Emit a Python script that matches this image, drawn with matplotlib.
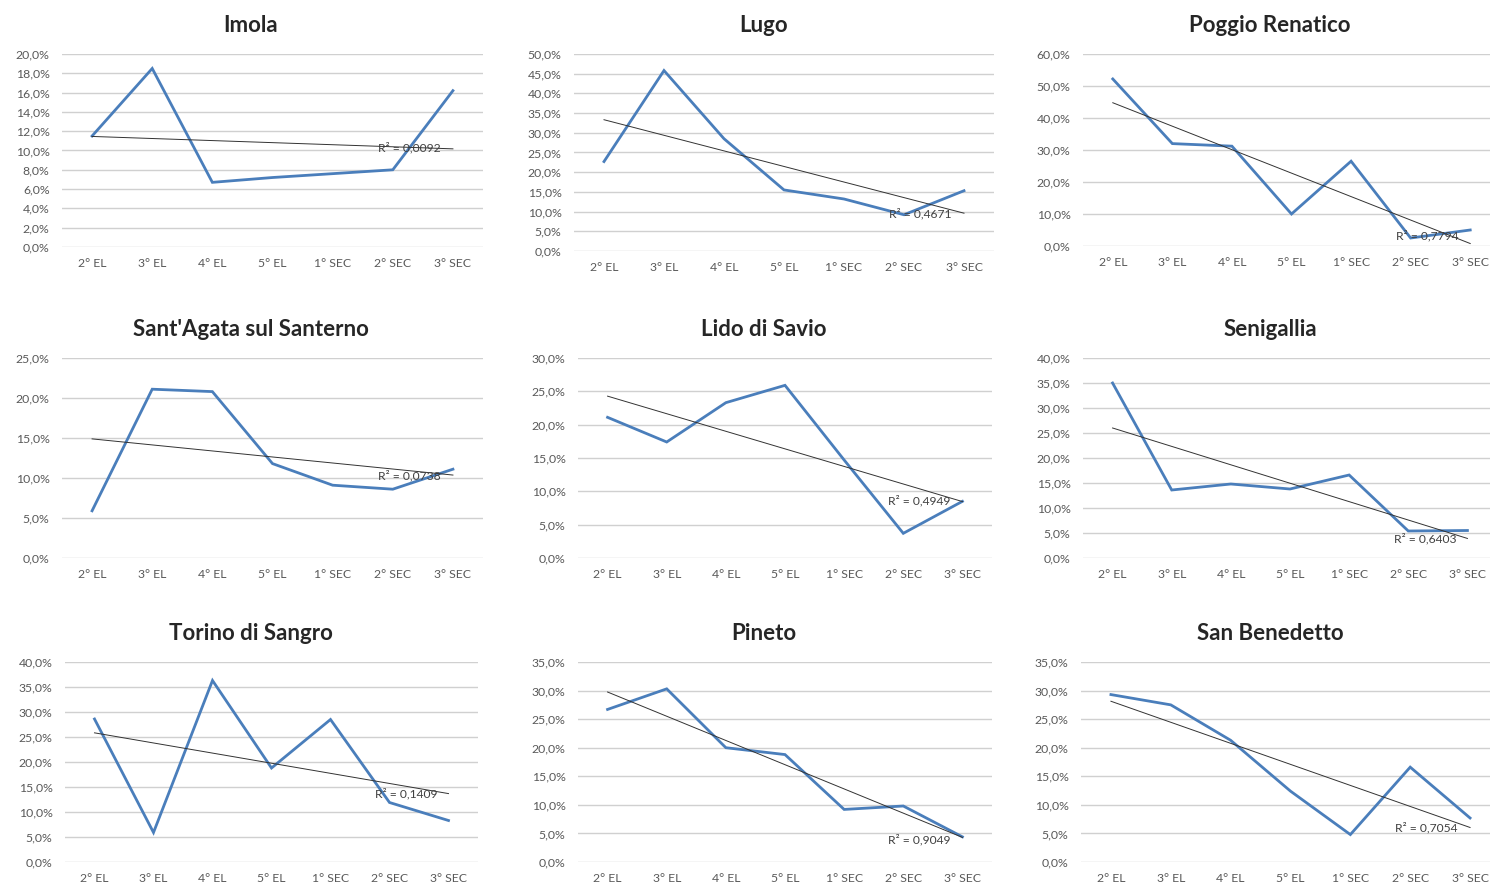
import matplotlib

matplotlib.use("Agg")
import matplotlib.pyplot as plt
import numpy as np
from matplotlib.ticker import FuncFormatter, MultipleLocator

plt.rcParams["font.family"] = ["Lato", "DejaVu Sans"]

# --- data (percent values) ---
categories = ["2° EL", "3° EL", "4° EL", "5° EL", "1° SEC", "2° SEC", "3° SEC"]
titles = [
    "Imola", "Lugo", "Poggio Renatico",
    "Sant'Agata sul Santerno", "Lido di Savio", "Senigallia",
    "Torino di Sangro", "Pineto", "San Benedetto",
]
imola = [11.5, 18.5, 6.7, 7.2, 7.6, 8.0, 16.2]
lugo = [22.7, 45.8, 28.5, 15.5, 13.2, 9.2, 15.3]
poggio = [52.2, 32.0, 31.2, 10.0, 26.5, 2.5, 5.0]
santagata = [5.9, 21.1, 20.8, 11.8, 9.1, 8.6, 11.1]
lido = [21.1, 17.4, 23.3, 25.9, 14.7, 3.7, 8.5]
senigallia = [35.0, 13.6, 14.8, 13.8, 16.6, 5.4, 5.5]
torino = [28.6, 5.9, 36.3, 18.8, 28.5, 11.9, 8.3]
pineto = [26.7, 30.3, 20.0, 18.8, 9.2, 9.8, 4.4]
sanbenedetto = [29.3, 27.5, 21.3, 12.4, 4.8, 16.6, 7.7]
series = [imola, lugo, poggio, santagata, lido, senigallia, torino, pineto, sanbenedetto]
r2_labels = ["0,0092", "0,4671", "0,7794", "0,0738", "0,4949",
             "0,6403", "0,1409", "0,9049", "0,7054"]
y_max = [20, 50, 60, 25, 30, 40, 40, 35, 35]
y_step = [2, 5, 10, 5, 5, 5, 5, 5, 5]

# --- layout (pixel boxes: left, top, right, bottom) ---
W, H = 1490, 888
boxes = [
    (62, 54, 483, 247), (574, 54, 994, 251), (1083, 54, 1500, 246),
    (62, 358, 483, 558), (578, 358, 992, 558), (1083, 358, 1497, 558),
    (65, 662, 478, 862), (578, 662, 992, 862), (1081, 662, 1500, 862),
]
title_pos = [(251, 25), (764, 25), (1270, 25),
             (251, 329), (764, 329), (1270, 329),
             (251, 633), (764, 633), (1270, 633)]
r2_y = [10.26, 9.6, 3.1, 10.25, 8.55, 3.8, 13.6, 4.0, 5.95]

LINE = "#4a7ebb"
GRID = "#d0d0d0"
TXT = "#595959"

fig = plt.figure(figsize=(W / 100, H / 100), dpi=100)
fig.patch.set_facecolor("white")
x = np.arange(len(categories))

for i, vals in enumerate(series):
    l, t, r, b = boxes[i]
    ax = fig.add_axes([l / W, 1 - b / H, (r - l) / W, (b - t) / H])
    ax.plot(x, vals, color=LINE, lw=2.0, zorder=3, solid_joinstyle="miter")
    # linear trend line, as in the spreadsheet chart
    k, c = np.polyfit(x, vals, 1)
    ax.plot(x, k * x + c, color="#333333", lw=0.7, zorder=4)
    ax.text(4.75, r2_y[i], f"R² = {r2_labels[i]}", fontsize=8.7,
            color="#404040", va="center", ha="left", zorder=5)

    ax.set_xlim(-0.5, len(categories) - 0.5)
    ax.set_ylim(0, y_max[i])
    ax.yaxis.set_major_locator(MultipleLocator(y_step[i]))
    ax.yaxis.set_major_formatter(
        FuncFormatter(lambda v, _: f"{v:.1f}%".replace(".", ","))
    )
    ax.set_xticks(x)
    ax.set_xticklabels(categories)
    ax.grid(axis="y", color=GRID, lw=1.0, zorder=0)
    ax.set_axisbelow(True)
    for s in ax.spines.values():
        s.set_visible(False)
    ax.tick_params(axis="both", length=0, labelsize=8.8, labelcolor=TXT)
    ax.tick_params(axis="y", pad=9)
    ax.tick_params(axis="x", pad=8)
    ax.patch.set_alpha(0)

    tx, ty = title_pos[i]
    fig.text(tx / W, 1 - ty / H, titles[i], fontsize=16, fontweight="bold",
             ha="center", va="center", color="#262626")

fig.savefig("out.png", dpi=100)
